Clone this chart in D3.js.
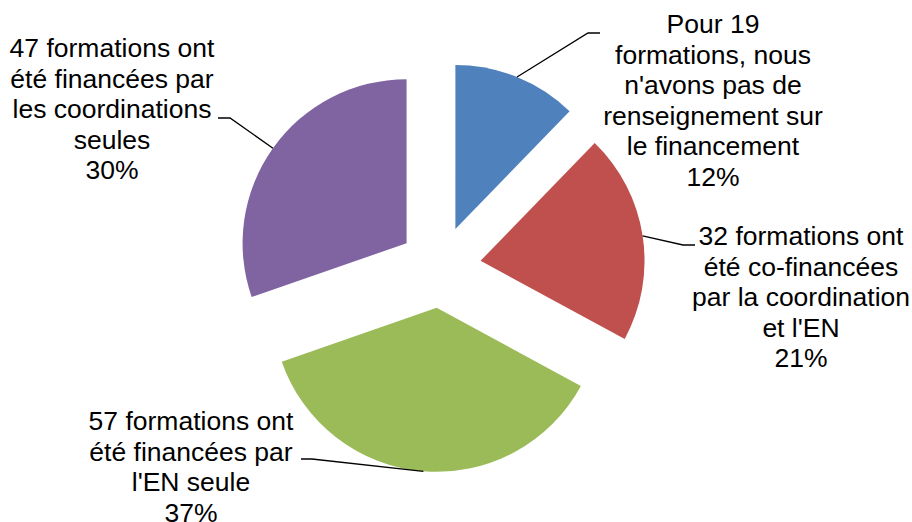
<!DOCTYPE html>
<html>
<head>
<meta charset="utf-8">
<script src="https://cdn.jsdelivr.net/npm/d3@7"></script>
<style>
  body { margin: 0; background: #fff; }
  svg { display: block; font-family: "Liberation Sans", Arial, sans-serif; }
</style>
</head>
<body>
<div id="chart"></div>
<script>
// data
var counts = [19, 32, 57, 47];
var colors = ['#4F81BD', '#C0504D', '#9BBB59', '#8064A2'];
var labelLines = [
  ['Pour 19', 'formations, nous', "n'avons pas de", 'renseignement sur', 'le financement'],
  ['32 formations ont', 'été co-financées', 'par la coordination', "et l'EN"],
  ['57 formations ont', 'été financées par', "l'EN seule"],
  ['47 formations ont', 'été financées par', 'les coordinations', 'seules']
];

// layout of labels: text centre x, first baseline y, elbow of leader line, end of leader
var labelPos = [
  {x: 713, y: 33, elbow: [588, 33], end: [600, 33]},
  {x: 801, y: 245, elbow: [683, 245], end: [695, 245]},
  {x: 191, y: 430, elbow: [312, 459], end: [301, 459]},
  {x: 112, y: 57, elbow: [230, 118], end: [218, 118]}
];

var width = 912,
  height = 522;

var cx = 440, cy = 267,
  radius = 164,
  explode = 41,
  lineH = 30.6;

var svg = d3.select('#chart').append('svg')
    .attr('width', width)
    .attr('height', height);

var total = d3.sum(counts);

var pie = d3.pie()
    .sort(null)
    .value(function(d) { return d; });

var arc = d3.arc()
    .innerRadius(0)
    .outerRadius(radius);

var edge = d3.arc()
    .innerRadius(radius)
    .outerRadius(radius);

var arcs = pie(counts);

function offset(d) {
  var a = (d.startAngle + d.endAngle) / 2;
  return [Math.sin(a) * explode, -Math.cos(a) * explode];
}

var g = svg.append('g')
    .attr('transform', 'translate(' + cx + ',' + cy + ')');

var slices = g.selectAll('g.slice')
  .data(arcs)
  .enter().append('g')
  .attr('class', 'slice')
  .attr('transform', function(d) {
    var o = offset(d);
    return 'translate(' + o[0] + ',' + o[1] + ')';
  });

slices.append('path')
  .attr('d', arc)
  .style('fill', function(d, i) { return colors[i]; });

// leader lines
svg.append('g').selectAll('path')
  .data(arcs)
  .enter().append('path')
  .attr('d', function(d, i) {
    var o = offset(d);
    var c = edge.centroid(d);
    var p = labelPos[i];
    return 'M' + (cx + o[0] + c[0]) + ',' + (cy + o[1] + c[1]) +
      'L' + p.elbow[0] + ',' + p.elbow[1] +
      'L' + p.end[0] + ',' + p.end[1];
  })
  .style('fill', 'none')
  .style('stroke', '#000')
  .style('stroke-width', 1.3);

// labels
var fmt = d3.format('.0%');
var labels = svg.append('g').selectAll('text')
  .data(arcs)
  .enter().append('text')
  .attr('text-anchor', 'middle')
  .style('font-size', '26.5px')
  .style('fill', '#000');

labels.each(function(d, i) {
  var t = d3.select(this);
  var p = labelPos[i];
  var lines = labelLines[i].concat([fmt(counts[i] / total)]);
  lines.forEach(function(s, k) {
    t.append('tspan')
      .attr('x', p.x)
      .attr('y', p.y + k * lineH)
      .text(s);
  });
});
</script>
</body>
</html>
